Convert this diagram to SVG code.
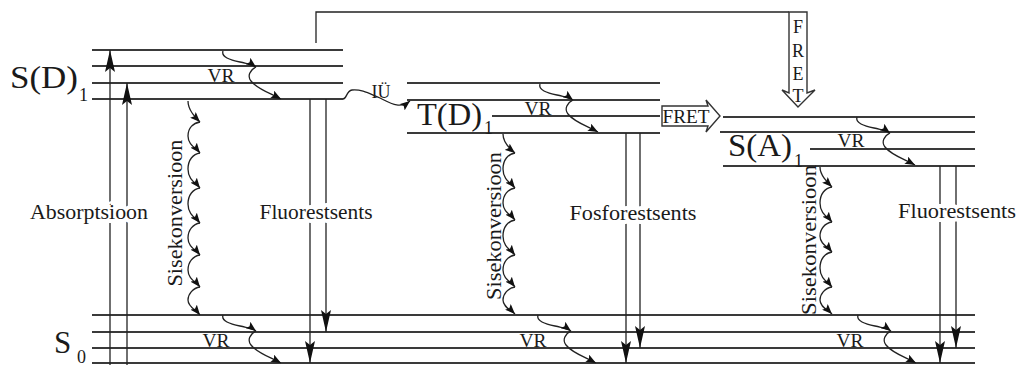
<svg xmlns="http://www.w3.org/2000/svg" width="1019" height="365" viewBox="0 0 1019 365">
<style>
.lvl{stroke:#3a3a3a;stroke-width:1.8;fill:none}
.ln{stroke:#222;stroke-width:1.3;fill:none}
.big{stroke:#222;stroke-width:1.3;fill:none;marker-end:url(#bigHead)}
.wv{stroke:#222;stroke-width:1.3;fill:none;marker-end:url(#smallHead)}
text{font-family:"Liberation Serif","Times New Roman",serif;fill:#1a1a1a}
.lbl{font-size:22px;text-anchor:middle}
.bg{stroke:#fff;stroke-width:8;paint-order:stroke;stroke-linejoin:round}
.vr{font-size:18px;text-anchor:middle}
.st{font-size:31px}
.sub{font-size:18px}
.rot{font-size:22px;text-anchor:middle}
.fret{font-size:18px;text-anchor:middle}
.blk{fill:#fff;stroke:#333;stroke-width:1.4}
</style>
<defs>
<marker id="bigHead" viewBox="0 0 22 10" refX="22" refY="5" markerWidth="22" markerHeight="10" markerUnits="userSpaceOnUse" orient="auto">
<path d="M0,0 L22,5 L0,10 L4,5 Z" fill="#111"/>
</marker>
<marker id="smallHead" viewBox="0 0 10 8" refX="10" refY="4" markerWidth="10" markerHeight="8" markerUnits="userSpaceOnUse" orient="auto">
<path d="M0,0 L10,4 L0,8 L2,4 Z" fill="#111"/>
</marker>
</defs>

<g id="SD1">
<line class="lvl" x1="92" y1="50" x2="343" y2="50"/>
<line class="lvl" x1="92" y1="66" x2="343" y2="66"/>
<line class="lvl" x1="92" y1="83" x2="343" y2="83"/>
<line class="lvl" x1="92" y1="99" x2="343" y2="99"/>
<text class="st" x="10" y="88" textLength="68" lengthAdjust="spacingAndGlyphs">S(D)</text>
<text class="sub" x="79" y="101">1</text>
</g>

<g id="TD1">
<line class="lvl" x1="407" y1="83" x2="660" y2="83"/>
<line class="lvl" x1="407" y1="100" x2="660" y2="100"/>
<line class="lvl" x1="492" y1="116" x2="660" y2="116"/>
<line class="lvl" x1="407" y1="133" x2="660" y2="133"/>
<text class="st" x="417" y="125" textLength="65" lengthAdjust="spacingAndGlyphs">T(D)</text>
<text class="sub" x="484" y="134">1</text>
</g>

<g id="SA1">
<line class="lvl" x1="723" y1="117" x2="975" y2="117"/>
<line class="lvl" x1="720" y1="132" x2="975" y2="132"/>
<line class="lvl" x1="810" y1="149" x2="975" y2="149"/>
<line class="lvl" x1="723" y1="166" x2="975" y2="166"/>
<text class="st" x="728" y="156" textLength="64" lengthAdjust="spacingAndGlyphs">S(A)</text>
<text class="sub" x="794" y="167">1</text>
</g>

<g id="S0">
<line class="lvl" x1="92" y1="315" x2="975" y2="315"/>
<line class="lvl" x1="92" y1="332" x2="975" y2="332"/>
<line class="lvl" x1="92" y1="348" x2="975" y2="348"/>
<line class="lvl" x1="92" y1="363" x2="975" y2="363"/>
<text class="st" x="54" y="353">S</text>
<text class="sub" x="77" y="363">0</text>
</g>

<g id="connectors">
<line class="big" x1="110" y1="365" x2="110" y2="50"/>
<line class="big" x1="127" y1="365" x2="127" y2="83"/>
<text class="lbl bg" x="89" y="219" textLength="118" lengthAdjust="spacingAndGlyphs">Absorptsioon</text>

<line class="big" x1="310" y1="99" x2="310" y2="363"/>
<line class="big" x1="326" y1="99" x2="326" y2="332"/>
<text class="lbl bg" x="316" y="219" textLength="113" lengthAdjust="spacingAndGlyphs">Fluorestsents</text>

<line class="big" x1="626" y1="133" x2="626" y2="363"/>
<line class="big" x1="640" y1="133" x2="640" y2="348"/>
<text class="lbl bg" x="633" y="220" textLength="127" lengthAdjust="spacingAndGlyphs">Fosforestsents</text>

<line class="big" x1="940" y1="166" x2="940" y2="363"/>
<line class="big" x1="956" y1="166" x2="956" y2="348"/>
<text class="lbl bg" x="957" y="218" textLength="118" lengthAdjust="spacingAndGlyphs">Fluorestsents</text>

<path class="wv" d="M223,51 c-2,6 7,9 17,11 c8,2 12,2 16,5"/>
<path class="wv" d="M256,67 c-6,3 -9,9 -5,14 c6,8 19,12 30,18"/>
<text class="vr" x="221" y="82" textLength="27" lengthAdjust="spacingAndGlyphs">VR</text>

<path class="wv" d="M540,84 c-2,6 7,9 17,11 c8,2 12,2 16,5"/>
<path class="wv" d="M573,100 c-6,3 -9,9 -5,14 c6,8 19,12 30,18"/>
<text class="vr" x="538" y="115" textLength="27" lengthAdjust="spacingAndGlyphs">VR</text>

<path class="wv" d="M857,117 c-2,6 7,9 17,11 c8,2 12,2 16,5"/>
<path class="wv" d="M890,133 c-6,3 -9,9 -5,14 c6,8 19,12 30,18"/>
<text class="vr" x="851" y="147" textLength="27" lengthAdjust="spacingAndGlyphs">VR</text>

<path class="wv" d="M223,315 c-2,6 7,9 17,11 c8,2 12,2 16,5"/>
<path class="wv" d="M256,331 c-6,3 -9,9 -5,14 c6,8 19,12 30,18"/>
<text class="vr" x="216" y="347" textLength="27" lengthAdjust="spacingAndGlyphs">VR</text>

<path class="wv" d="M538,315 c-2,6 7,9 17,11 c8,2 12,2 16,5"/>
<path class="wv" d="M571,331 c-6,3 -9,9 -5,14 c6,8 19,12 30,18"/>
<text class="vr" x="533" y="347" textLength="27" lengthAdjust="spacingAndGlyphs">VR</text>

<path class="wv" d="M858,315 c-2,6 7,9 17,11 c8,2 12,2 16,5"/>
<path class="wv" d="M891,331 c-6,3 -9,9 -5,14 c6,8 19,12 30,18"/>
<text class="vr" x="850" y="347" textLength="27" lengthAdjust="spacingAndGlyphs">VR</text>

<path class="wv" d="M188,101 C188,110 195,117 200,122"/>
<path class="wv" d="M200,122 C193,123 188,128 188,136 C188,145 196,148 200,153"/>
<path class="wv" d="M200,153 C193,154 188,160 188,169 C188,180 196,183 200,188"/>
<path class="wv" d="M200,188 C193,189 188,195 188,204 C188,215 196,218 200,223"/>
<path class="wv" d="M200,223 C193,224 188,230 188,238 C188,247 196,250 200,255"/>
<path class="wv" d="M200,255 C193,256 188,262 188,270 C188,279 196,282 200,287"/>
<path class="wv" d="M200,287 C193,288 188,294 188,300 C188,307 196,310 200,315"/>
<text class="rot" transform="translate(182,213) rotate(-90)" textLength="147" lengthAdjust="spacingAndGlyphs">Sisekonversioon</text>

<path class="wv" d="M503,134 C503,142 510,149 515,153"/>
<path class="wv" d="M515,153 C508,154 503,160 503,169 C503,180 511,183 515,188"/>
<path class="wv" d="M515,188 C508,189 503,195 503,203 C503,212 511,215 515,220"/>
<path class="wv" d="M515,220 C508,221 503,227 503,236 C503,247 511,250 515,255"/>
<path class="wv" d="M515,255 C508,256 503,262 503,270 C503,279 511,282 515,287"/>
<path class="wv" d="M515,287 C508,288 503,294 503,300 C503,307 511,310 515,314"/>
<text class="rot" transform="translate(501,226) rotate(-90)" textLength="148" lengthAdjust="spacingAndGlyphs">Sisekonversioon</text>

<path class="wv" d="M820,167 C820,175 827,182 832,187"/>
<path class="wv" d="M832,187 C825,188 820,194 820,203 C820,214 828,217 832,222"/>
<path class="wv" d="M832,222 C825,223 820,229 820,236 C820,244 828,247 832,252"/>
<path class="wv" d="M832,252 C825,253 820,259 820,268 C820,279 828,282 832,287"/>
<path class="wv" d="M832,287 C825,288 820,294 820,300 C820,307 828,310 832,314"/>
<text class="rot" transform="translate(816,240) rotate(-90)" textLength="150" lengthAdjust="spacingAndGlyphs">Sisekonversioon</text>

<path class="wv" d="M343,99 C347,99 346,91 352,90 C362,89 370,94 380,98 C392,104 400,109 410,101"/>
<text x="381" y="98" font-size="18" text-anchor="middle" fill="#1a1a1a" textLength="19" lengthAdjust="spacingAndGlyphs">IÜ</text>

<polyline class="ln" points="316,43 316,12 789,12"/>
<polygon class="blk" points="789,12 807,12 807,93 815,90 798,107 782,90 789,93"/>
<text class="fret" x="798" y="33">F</text>
<text class="fret" x="798" y="57">R</text>
<text class="fret" x="798" y="80">E</text>
<text class="fret" x="798" y="102">T</text>

<polygon class="blk" points="662,106 708,106 706,100 720,116 706,132 708,126 662,126"/>
<text x="686" y="123" font-size="18" text-anchor="middle" textLength="47" lengthAdjust="spacingAndGlyphs">FRET</text>
</g>
</svg>
